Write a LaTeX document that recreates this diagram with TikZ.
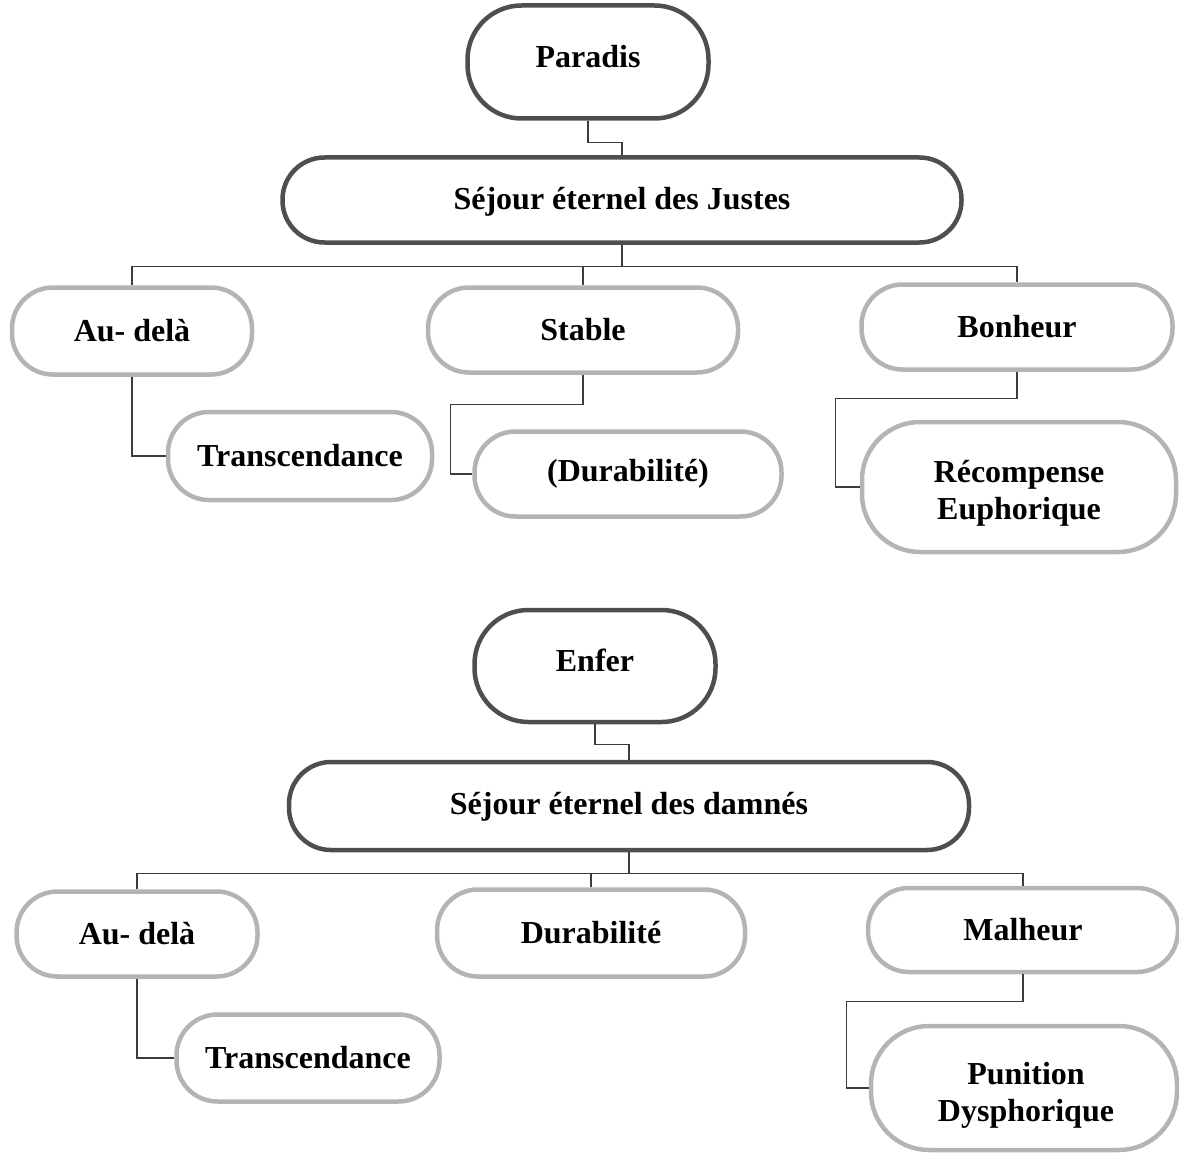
\documentclass[tikz,border=0pt]{standalone}
\usepackage{fontspec}
\setmainfont{Liberation Serif}
\usetikzlibrary{calc}
\definecolor{darkedge}{HTML}{4E4E4E}
\definecolor{lightedge}{HTML}{B4B4B4}
\definecolor{wire}{HTML}{3C3C3C}
\tikzset{
  lbl/.style={font=\fontsize{32}{37}\selectfont\bfseries, align=center, inner sep=0pt},
  mainbox/.style={lbl, draw=darkedge, line width=4.5pt, rounded corners=#1},
  mainbox/.default=42pt,
  subbox/.style={lbl, draw=lightedge, line width=4.5pt, rounded corners=#1},
  subbox/.default=41pt,
  wirestyle/.style={draw=wire, line width=1.4pt},
}
\begin{document}
\begin{tikzpicture}[x=1pt, y=-1pt]
\useasboundingbox (0,0) rectangle (1179,1153);

% ---------- Paradis ----------
\node[mainbox=54pt, minimum width=241pt, minimum height=113pt] (paradis) at (588,62) {};
\node[lbl] (paradisT) at (588,57) {Paradis};
\node[mainbox, minimum width=679pt, minimum height=85pt] (justes) at (622,200) {};
\node[lbl] (justesT) at (622,202) {Séjour éternel des Justes};

\node[subbox, minimum width=240pt, minimum height=87pt] (audelaA) at (132,331) {Au- delà};
\node[subbox, minimum width=310pt, minimum height=85pt] (stable) at (583,330) {Stable};
\node[subbox, minimum width=311pt, minimum height=85pt] (bonheur) at (1017,327) {Bonheur};

\node[subbox, minimum width=264pt, minimum height=88pt] (transA) at (300,456) {Transcendance};
\node[subbox, minimum width=307pt, minimum height=85pt] (duraA) at (628,474) {(Durabilité)};
\node[subbox=58pt, minimum width=314pt, minimum height=130pt] (recomp) at (1019,487) {};
\node[lbl] (recompT) at (1019,493) {Récompense\\Euphorique};

\draw[wirestyle] (paradis.south) -- ++(0,22) -| (justes.north);
\coordinate (busA) at ($(justes.south)+(0,-22pt)$);
\draw[wirestyle] (justes.south) -- (busA);
\draw[wirestyle] (audelaA.north) |- (bonheur.north |- busA) -- (bonheur.north);
\draw[wirestyle] (stable.north) -- (stable.north |- busA);
\draw[wirestyle] (audelaA.south) |- (transA.west);
\draw[wirestyle] (stable.south) -- ++(0,30) -| ([xshift=-22pt]duraA.west) -- (duraA.west);
\draw[wirestyle] (bonheur.south) -- ++(0,27) -| ([xshift=-24pt]recomp.west) -- (recomp.west);

% ---------- Enfer ----------
\node[mainbox=54pt, minimum width=241pt, minimum height=112pt] (enfer) at (595,666) {};
\node[lbl] (enferT) at (595,660) {Enfer};
\node[mainbox, minimum width=680pt, minimum height=88pt] (damnes) at (629,806) {};
\node[lbl] (damnesT) at (629,807) {Séjour éternel des damnés};

\node[subbox, minimum width=241pt, minimum height=85pt] (audelaB) at (137,934) {Au- delà};
\node[subbox, minimum width=308pt, minimum height=87pt] (duraB) at (591,933) {Durabilité};
\node[subbox, minimum width=310pt, minimum height=84pt] (malheur) at (1023,930) {Malheur};

\node[subbox, minimum width=263pt, minimum height=87pt] (transB) at (308,1058) {Transcendance};
\node[subbox=58pt, minimum width=306pt, minimum height=124pt] (punition) at (1024,1088) {};
\node[lbl] (punitionT) at (1026,1095) {Punition\\Dysphorique};

\draw[wirestyle] (enfer.south) -- ++(0,20) -| (damnes.north);
\coordinate (busB) at ($(damnes.south)+(0,-21pt)$);
\draw[wirestyle] (damnes.south) -- (busB);
\draw[wirestyle] (audelaB.north) |- (malheur.north |- busB) -- (malheur.north);
\draw[wirestyle] (duraB.north) -- (duraB.north |- busB);
\draw[wirestyle] (audelaB.south) |- (transB.west);
\draw[wirestyle] (malheur.south) -- ++(0,27) -| ([xshift=-22pt]punition.west) -- (punition.west);
\end{tikzpicture}
\end{document}
